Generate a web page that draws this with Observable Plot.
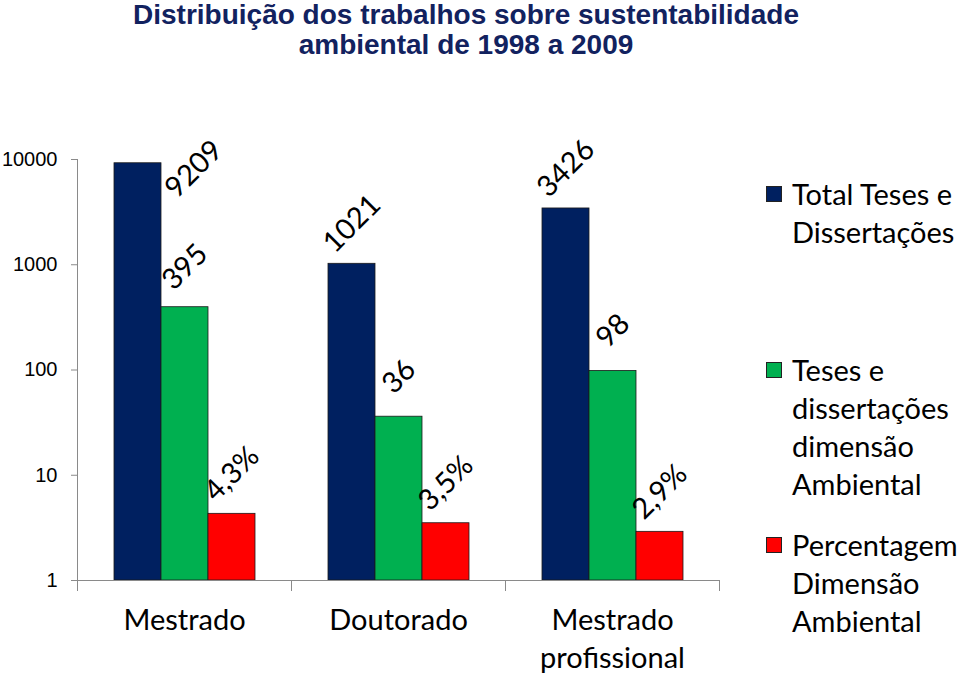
<!DOCTYPE html>
<html><head><meta charset="utf-8">
<script src="https://cdn.jsdelivr.net/npm/d3@7"></script>
<script src="https://cdn.jsdelivr.net/npm/@observablehq/plot@0.6"></script>
<style>
body{margin:0;background:#fff;width:960px;height:676px;overflow:hidden;position:relative;font-family:Lato,"Open Sans",sans-serif;}
#title{position:absolute;left:0;top:0;width:932px;text-align:center;font-family:"Liberation Sans",Arial,sans-serif;font-weight:bold;font-size:28px;line-height:30px;color:#12225F;}
#chart{position:absolute;left:0;top:70px;}
.leg{position:absolute;left:766px;font-size:29px;line-height:38px;color:#000;}
.leg .sw{position:absolute;left:0;top:11px;width:16px;height:16px;box-sizing:border-box;border:1px solid #222;}
.leg .tx{margin-left:26px;white-space:pre;}
</style></head>
<body>
<div id="title">Distribuição dos trabalhos sobre sustentabilidade<br>ambiental de 1998 a 2009</div>
<div id="chart"></div>
<div id="legend"></div>
<script>
// ---- data ----
const groups = ["Mestrado", "Doutorado", "Mestrado profissional"];
const groupLabels = ["Mestrado", "Doutorado", "Mestrado\nprofissional"];
const series = ["Total Teses e Dissertações", "Teses e dissertações dimensão Ambiental", "Percentagem Dimensão Ambiental"];
const legendLabels = ["Total Teses e\nDissertações", "Teses e\ndissertações\ndimensão\nAmbiental", "Percentagem\nDimensão\nAmbiental"];
const totalValues = [9209, 1021, 3426];
const ambientalValues = [395, 36, 98];
const percentValues = [4.3, 3.5, 2.9];
const colors = ["#002060", "#00B050", "#FF0000"];
const yTicks = [1, 10, 100, 1000, 10000];
const legendTops = [175, 351, 526];

const fmtPct = v => String(v).replace(".", ",") + "%";
const rows = groups.flatMap((g, i) => [
  {group: g, series: series[0], value: totalValues[i], label: String(totalValues[i])},
  {group: g, series: series[1], value: ambientalValues[i], label: String(ambientalValues[i])},
  {group: g, series: series[2], value: percentValues[i], label: fmtPct(percentValues[i])}
]);

const W = 960, H = 606, MT = 89, MB = 96, ML = 76, MR = 240;
const plotH = H - MT - MB;
const axisGray = "#8a8a8a";

const chart = Plot.plot({
  width: W, height: H,
  marginTop: MT, marginBottom: MB, marginLeft: ML, marginRight: MR,
  style: {fontFamily: "Lato, 'Open Sans', sans-serif", color: "black", background: "white", overflow: "visible"},
  fx: {domain: groups, padding: 0, label: null},
  x: {domain: series, paddingInner: 0, paddingOuter: 0.74, axis: null},
  y: {type: "log", domain: [1, 10000], label: null},
  color: {domain: series, range: colors},
  marks: [
    Plot.barY(rows, {fx: "group", x: "series", y1: 1, y2: "value", fill: "series", stroke: "#1a1a1a", strokeWidth: 0.8}),
    Plot.ruleY([1], {stroke: axisGray}),
    Plot.frame({anchor: "left", stroke: axisGray, fx: () => groups[0]}),
    Plot.frame({anchor: "left", stroke: axisGray, insetTop: plotH, insetBottom: -10}),
    Plot.frame({anchor: "right", stroke: axisGray, insetTop: plotH, insetBottom: -10, fx: () => groups[groups.length - 1]}),
    Plot.axisY({ticks: yTicks, tickFormat: d => String(d), tickSize: 6, tickPadding: 14, stroke: axisGray, fill: "black",
      fontSize: 20, fontFamily: "'Liberation Sans', Arial, sans-serif", label: null}),
    Plot.axisFx({anchor: "bottom", tickSize: 0, tickPadding: 23, lineAnchor: "top", lineHeight: 1.31,
      tickFormat: g => groupLabels[groups.indexOf(g)], fontSize: 29, fill: "black", label: null}),
    // value labels (rotated, Excel-style outside end)
    Plot.text(rows.filter(d => d.value <= 5000), {fx: "group", x: "series", y: "value", text: "label",
      rotate: -45, dy: -40, textAnchor: "middle", lineAnchor: "middle", fontSize: 29, fill: "black"}),
    // label that would overflow the top is placed beside its bar
    Plot.text(rows.filter(d => d.value > 5000), {fx: "group", x: "series", y: "value", text: "label",
      rotate: -45, dx: 56, dy: 6, textAnchor: "middle", lineAnchor: "middle", fontSize: 29, fill: "black"})
  ]
});
document.getElementById("chart").appendChild(chart);

const leg = document.getElementById("legend");
series.forEach((s, i) => {
  const item = document.createElement("div");
  item.className = "leg";
  item.style.top = legendTops[i] + "px";
  const sw = document.createElement("div");
  sw.className = "sw";
  sw.style.background = colors[i];
  const tx = document.createElement("div");
  tx.className = "tx";
  tx.textContent = legendLabels[i];
  item.appendChild(sw); item.appendChild(tx);
  leg.appendChild(item);
});
</script>
</body></html>
